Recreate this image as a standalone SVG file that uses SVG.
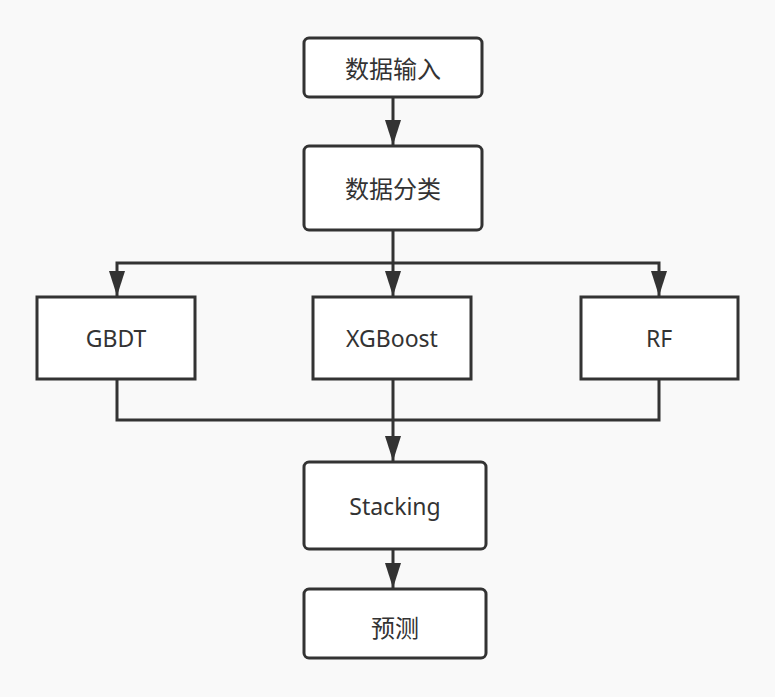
<svg xmlns="http://www.w3.org/2000/svg" width="775" height="697" viewBox="0 0 775 697">
<defs>
<style>
.box{fill:#fff;stroke:#333;stroke-width:3}
.lbl{font-family:"Noto Sans","Noto Sans CJK SC",sans-serif;font-size:23px;fill:#333;text-anchor:middle;dominant-baseline:central}
.cjk{font-size:24px}
.ln{fill:none;stroke:#333;stroke-width:3}
</style>
<marker id="ah" viewBox="0 0 25 16" refX="25" refY="8" markerWidth="25" markerHeight="16" markerUnits="userSpaceOnUse" orient="auto">
<path d="M0,0 L25,8 L0,16 Z" fill="#333"/>
</marker>
</defs>
<rect width="775" height="697" fill="#f9f9f9"/>
<g id="connectors">
<path class="ln" d="M393,97 V145" marker-end="url(#ah)"/>
<path class="ln" d="M393,230 V296" marker-end="url(#ah)"/>
<path class="ln" d="M393,263 H117 V296" marker-end="url(#ah)"/>
<path class="ln" d="M393,263 H659 V296" marker-end="url(#ah)"/>
<path class="ln" d="M117,379 V420 H659 V379"/>
<path class="ln" d="M393,379 V461" marker-end="url(#ah)"/>
<path class="ln" d="M393,549 V588" marker-end="url(#ah)"/>
</g>
<g id="n1"><rect class="box" x="304" y="38" width="178" height="59" rx="5"/><text class="lbl cjk" x="393" y="68">数据输入</text></g>
<g id="n2"><rect class="box" x="304" y="146" width="178" height="84" rx="5"/><text class="lbl cjk" x="393" y="188">数据分类</text></g>
<g id="n3"><rect class="box" x="37" y="297" width="158" height="82"/><text class="lbl" x="116" y="338">GBDT</text></g>
<g id="n4"><rect class="box" x="313" y="297" width="158" height="82"/><text class="lbl" x="392" y="338">XGBoost</text></g>
<g id="n5"><rect class="box" x="581" y="297" width="157" height="82"/><text class="lbl" x="659" y="338">RF</text></g>
<g id="n6"><rect class="box" x="304" y="462" width="182" height="87" rx="5"/><text class="lbl" x="395" y="506">Stacking</text></g>
<g id="n7"><rect class="box" x="304" y="589" width="182" height="69" rx="5"/><text class="lbl cjk" x="395" y="627">预测</text></g>
</svg>
